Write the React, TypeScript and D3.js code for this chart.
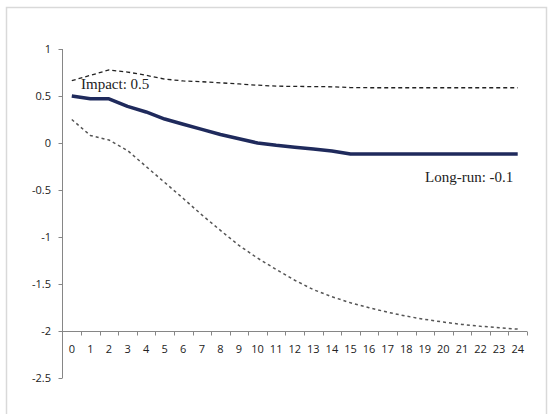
import React from "react";
import * as d3 from "d3";

// Horizons (periods after the shock)
const periods: number[] = d3.range(0, 25);

// Point estimate of the response
const response: number[] = [
  0.5, 0.47, 0.47, 0.39, 0.33, 0.255, 0.2, 0.145, 0.09, 0.045, 0.0, -0.025,
  -0.045, -0.065, -0.085, -0.117, -0.117, -0.117, -0.117, -0.117, -0.117,
  -0.117, -0.117, -0.117, -0.117,
];

// Upper confidence band
const upperBand: number[] = [
  0.663, 0.72, 0.777, 0.755, 0.72, 0.68, 0.66, 0.652, 0.64, 0.628, 0.615,
  0.605, 0.602, 0.6, 0.598, 0.59, 0.588, 0.588, 0.588, 0.588, 0.588, 0.588,
  0.588, 0.588, 0.588,
];

// Lower confidence band
const lowerBand: number[] = [
  0.25, 0.08, 0.032, -0.08, -0.25, -0.42, -0.59, -0.765, -0.93, -1.09, -1.225,
  -1.345, -1.46, -1.56, -1.635, -1.7, -1.752, -1.8, -1.842, -1.876, -1.905,
  -1.93, -1.95, -1.965, -1.98,
];

// Value-axis ticks
const yTicks: number[] = [1, 0.5, 0, -0.5, -1, -1.5, -2, -2.5];

const W = 548;
const H = 414;

export default function App() {
  const x = d3
    .scaleBand<number>()
    .domain(periods)
    .range([62.5, 527])
    .padding(0);
  const bw = x.bandwidth();
  const cx = (i: number) => (x(i) as number) + bw / 2;

  const y = d3.scaleLinear().domain([-2.5, 1]).range([378, 49]);

  const line = d3
    .line<number>()
    .x((_, i) => cx(periods[i]))
    .y((v) => y(v));

  const axisColor = "#868686";
  const tickFont = "'Open Sans', 'Liberation Sans', sans-serif";
  const labelFont = "'Liberation Serif', 'Times New Roman', serif";
  const axisY = y(-2);
  const fmt1 = d3.format(".1f");
  const numText = (v: number) => fmt1(v).replace("\u2212", "-");

  const last = response[response.length - 1];

  return (
    <svg
      width={W}
      height={H}
      style={{ position: "absolute", left: 0, top: 0, background: "#fff" }}
    >
      {/* chart frame */}
      <rect
        x={6.5}
        y={7.5}
        width={540}
        height={420}
        fill="#fff"
        stroke="#d9d9d9"
        strokeWidth={1.5}
      />

      {/* value axis */}
      <line
        x1={62.5}
        x2={62.5}
        y1={y(1)}
        y2={y(-2.5)}
        stroke={axisColor}
        strokeWidth={1}
      />
      {yTicks.map((t) => (
        <g key={`y${t}`}>
          <line
            x1={58.5}
            x2={62.5}
            y1={Math.round(y(t)) + 0.5}
            y2={Math.round(y(t)) + 0.5}
            stroke={axisColor}
          />
          <text
            x={51}
            y={y(t) + 4}
            textAnchor="end"
            fontFamily={tickFont}
            fontSize={11}
            fill="#222"
          >
            {String(t)}
          </text>
        </g>
      ))}

      {/* category axis crossing at -2 */}
      <line
        x1={62.5}
        x2={527}
        y1={Math.round(axisY) + 0.5}
        y2={Math.round(axisY) + 0.5}
        stroke={axisColor}
      />
      {periods.map((p) => (
        <line
          key={`xt${p}`}
          x1={Math.round((x(p) as number) + bw) + 0.5}
          x2={Math.round((x(p) as number) + bw) + 0.5}
          y1={Math.round(axisY) + 0.5}
          y2={Math.round(axisY) + 4.5}
          stroke={axisColor}
        />
      ))}
      {periods.map((p) => (
        <text
          key={`xl${p}`}
          x={cx(p)}
          y={352.5}
          textAnchor="middle"
          fontFamily={tickFont}
          fontSize={11}
          fill="#222"
        >
          {p}
        </text>
      ))}

      {/* confidence bands */}
      <path
        d={line(upperBand) || ""}
        fill="none"
        stroke="#222"
        strokeWidth={1.3}
        strokeDasharray="4 3"
      />
      <path
        d={line(lowerBand) || ""}
        fill="none"
        stroke="#555"
        strokeWidth={1.5}
        strokeDasharray="3 3"
      />

      {/* point estimate */}
      <path
        d={line(response) || ""}
        fill="none"
        stroke="#1f2a5c"
        strokeWidth={3.5}
        strokeLinejoin="round"
      />

      {/* annotations */}
      <text
        x={81}
        y={88.5}
        fontFamily={labelFont}
        fontSize={15}
        fill="#222"
      >
        {`Impact: ${numText(response[0])}`}
      </text>
      <text
        x={425}
        y={182}
        fontFamily={labelFont}
        fontSize={15}
        fill="#222"
      >
        {`Long-run: ${numText(last)}`}
      </text>
    </svg>
  );
}
